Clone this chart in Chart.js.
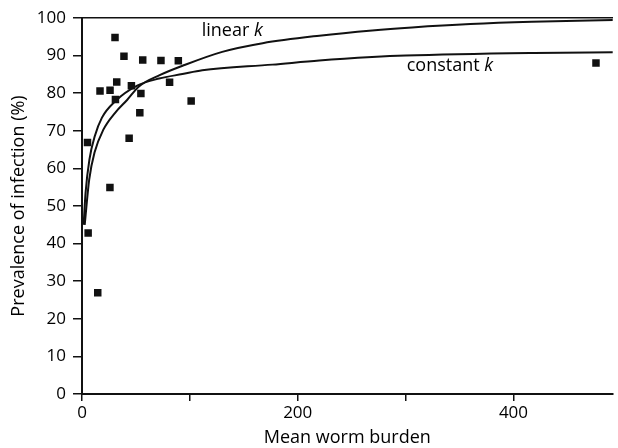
<!DOCTYPE html>
<html>
<head>
<meta charset="utf-8">
<script src="https://cdn.jsdelivr.net/npm/chart.js@4"></script>
<style>
  body { margin: 0; background: #fff; }
</style>
</head>
<body>
<canvas id="prevChart" width="618" height="448"></canvas>
<script>
// field samples: mean worm burden vs prevalence (%)
const worms = [5.1, 5.7, 14.6, 16.7, 26.0, 25.9, 30.6, 31.0, 32.2, 38.9, 43.7, 45.8, 53.6, 54.6, 56.3, 73.2, 81.2, 89.3, 101.2, 476.5];
const prevalence = [66.9, 42.8, 26.9, 80.6, 80.8, 54.9, 94.8, 78.3, 83.0, 89.8, 68.0, 82.0, 74.8, 79.9, 88.8, 88.7, 82.9, 88.6, 77.9, 88.0];

// fitted curve, constant k
const constBurden = [1.5, 3.3, 6.9, 11.9, 18.5, 31.0, 51.2, 71.5, 93.1, 111.5, 176.5, 220, 268.9, 300, 419, 497];
const constPrev = [45, 53.5, 62.4, 68.6, 73.5, 77.9, 82.0, 83.9, 85.1, 86.1, 87.6, 88.7, 89.6, 90.0, 90.7, 90.9];

// fitted curve, k linear in burden
const linBurden = [2.5, 6.7, 11.6, 19.8, 30.7, 41.8, 52.8, 72, 93.2, 130, 167.5, 220, 269, 306, 360, 417, 497];
const linPrev = [45, 57.1, 64.2, 70.3, 74.8, 78.2, 81.8, 84.8, 87.3, 91.0, 93.3, 95.3, 96.7, 97.5, 98.4, 99.0, 99.5];

const xTicks = [0, 100, 200, 300, 400];
const xLabelled = [0, 200, 400];
const curveNames = ['linear', 'constant'];

const toPoints = (xs, ys) => xs.map((v, i) => ({ x: v, y: ys[i] }));

// where each curve name sits, in data units
const labelAt = [[111, 95.2], [301, 85.9]];

Chart.defaults.font.family = '"Open Sans", sans-serif';
Chart.defaults.color = '#000';

const curveLabels = {
    id: 'curveLabels',
    afterDatasetsDraw(chart) {
        const { ctx, scales: { x, y } } = chart;
        ctx.save();
        ctx.fillStyle = '#000';
        ctx.textBaseline = 'alphabetic';
        curveNames.forEach((name, i) => {
            let px = x.getPixelForValue(labelAt[i][0]);
            const py = y.getPixelForValue(labelAt[i][1]);
            ctx.font = '18px "Open Sans"';
            ctx.fillText(name + ' ', px, py);
            px += ctx.measureText(name + ' ').width;
            ctx.font = 'italic 18px "Open Sans"';
            ctx.fillText('k', px, py);
        });
        ctx.restore();
    }
};

const curveStyle = {
    showLine: true,
    pointRadius: 0,
    borderColor: '#111',
    borderWidth: 2,
    cubicInterpolationMode: 'monotone'
};

new Chart(document.getElementById('prevChart').getContext('2d'), {
    type: 'scatter',
    data: {
        datasets: [
            {
                label: 'observed',
                data: toPoints(worms, prevalence),
                pointStyle: 'rect',
                pointRadius: 5.3,
                pointBorderWidth: 0,
                backgroundColor: '#111'
            },
            Object.assign({ label: 'constant k', data: toPoints(constBurden, constPrev) }, curveStyle),
            Object.assign({ label: 'linear k', data: toPoints(linBurden, linPrev) }, curveStyle)
        ]
    },
    options: {
        responsive: false,
        animation: false,
        layout: { padding: { top: 18, right: 0, left: 0, bottom: 0 } },
        plugins: { legend: { display: false }, tooltip: { enabled: false } },
        scales: {
            x: {
                type: 'linear',
                min: 0,
                max: 492,
                afterBuildTicks: s => { s.ticks = xTicks.map(v => ({ value: v })); },
                afterFit: s => { s.height = 54; },
                ticks: {
                    font: { size: 17 },
                    padding: 2,
                    maxRotation: 0,
                    callback: v => xLabelled.includes(v) ? String(v) : ''
                },
                grid: { drawOnChartArea: false, color: '#111', lineWidth: 1.5, tickLength: 7 },
                border: { color: '#111', width: 2 },
                title: {
                    display: true,
                    text: 'Mean worm burden',
                    font: { size: 18, lineHeight: 1 },
                    padding: { top: 0, bottom: 1 }
                }
            },
            x2: {
                type: 'linear',
                axis: 'x',
                position: 'top',
                display: true,
                min: 0,
                max: 492,
                afterFit: s => { s.height = 0; },
                ticks: { display: false },
                grid: { display: false },
                border: { display: true, color: '#111', width: 1.5 }
            },
            y: {
                min: 0,
                max: 100,
                afterFit: s => { s.width = 82; },
                ticks: { stepSize: 10, font: { size: 17 }, padding: 7 },
                grid: { drawOnChartArea: false, color: '#111', lineWidth: 1.5, tickLength: 9 },
                border: { color: '#111', width: 2 },
                title: {
                    display: true,
                    text: 'Prevalence of infection (%)',
                    font: { size: 18, lineHeight: 1 },
                    padding: { top: 10, bottom: 0 }
                }
            }
        }
    },
    plugins: [curveLabels]
});
</script>
</body>
</html>
